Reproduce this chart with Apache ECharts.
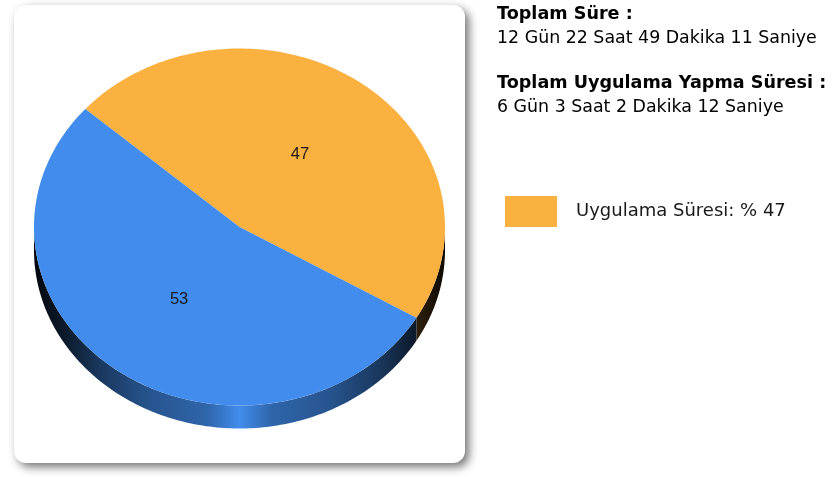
<!DOCTYPE html>
<html>
<head>
<meta charset="utf-8">
<script src="https://cdn.jsdelivr.net/npm/echarts@6/dist/echarts.min.js"></script>
<style>
html,body{margin:0;padding:0;background:#fff;}
#main{width:832px;height:477px;}
</style>
</head>
<body>
<div id="main"></div>
<script>
// ---- data ----
const categories = ['Uygulama Süresi', 'Diğer'];
const values = [47, 53];
const infoTitles = ['Toplam Süre :', 'Toplam Uygulama Yapma Süresi :'];
const infoValues = ['12 Gün 22 Saat 49 Dakika 11 Saniye', '6 Gün 3 Saat 2 Dakika 12 Saniye'];

// ---- style / layout ----
const sliceColors = ['#FBB13F', '#418CEC'];
const PIE = { cx: 239.5, cy: 227, rx: 205.5, ry: 178.5, depth: 23, startAngle: 138.6 };
const FONT = '"DejaVu Sans", Verdana, sans-serif';

function shade(hex, f) {
  const n = parseInt(hex.slice(1), 16);
  const r = Math.round(((n >> 16) & 255) * f), g = Math.round(((n >> 8) & 255) * f), b = Math.round((n & 255) * f);
  return 'rgb(' + r + ',' + g + ',' + b + ')';
}
function sideGradient(color) {
  const stops = [[0, 0.05], [0.08, 0.2], [0.16, 0.4], [0.28, 0.6], [0.42, 0.72], [0.5, 1.0], [0.58, 0.72], [0.72, 0.6], [0.84, 0.4], [0.92, 0.2], [1, 0.05]];
  return new echarts.graphic.LinearGradient(PIE.cx - PIE.rx, 0, PIE.cx + PIE.rx, 0,
    stops.map(s => ({ offset: s[0], color: shade(color, s[1]) })), true);
}
function pt(deg, dy) {
  const a = deg * Math.PI / 180;
  return [PIE.cx + PIE.rx * Math.cos(a), PIE.cy - PIE.ry * Math.sin(a) + (dy || 0)];
}
function arc(from, to, dy) {
  const pts = [];
  const n = Math.max(2, Math.ceil(Math.abs(to - from) / 1));
  for (let i = 0; i <= n; i++) pts.push(pt(from + (to - from) * i / n, dy));
  return pts;
}

const total = values.reduce((a, b) => a + b, 0);

function renderItem(params, api) {
  const idx = params.dataIndex;
  let before = 0;
  for (let i = 0; i < idx; i++) before += values[i];
  const v = api.value(0);
  const s = PIE.startAngle - before / total * 360;
  const e = PIE.startAngle - (before + v) / total * 360;
  const color = sliceColors[idx % sliceColors.length];
  const children = [];
  // side walls (visible lower half)
  for (let k = -2; k <= 2; k++) {
    const lo = Math.max(e, 180 + 360 * k), hi = Math.min(s, 360 + 360 * k);
    if (lo < hi) {
      const top = arc(lo, hi, 0);
      const bot = arc(hi, lo, PIE.depth);
      children.push({
        type: 'polygon', z2: 1,
        shape: { points: top.concat(bot) },
        style: { fill: sideGradient(color) }
      });
    }
  }
  // top face
  children.push({
    type: 'polygon', z2: 10,
    shape: { points: [[PIE.cx, PIE.cy]].concat(arc(s, e, 0)) },
    style: { fill: color }
  });
  // label
  const mid = (s + e) / 2;
  const a = mid * Math.PI / 180;
  children.push({
    type: 'text', z2: 20,
    x: PIE.cx + 0.5 * PIE.rx * Math.cos(a), y: PIE.cy - 0.5 * PIE.ry * Math.sin(a),
    style: { text: String(v), fill: '#1a1a1a', font: '16.5px "Liberation Sans", Arial, sans-serif', align: 'center', verticalAlign: 'middle' }
  });
  return { type: 'group', children: children };
}

const chart = echarts.init(document.getElementById('main'), null, { renderer: 'canvas' });

const infoGraphics = [];
infoTitles.forEach((t, i) => {
  infoGraphics.push({
    type: 'text', left: 497, top: 5 + i * 69,
    style: { text: t, font: 'bold 17.6px ' + FONT, fill: '#000' }
  });
  infoGraphics.push({
    type: 'text', left: 497, top: 30 + i * 69,
    style: { text: infoValues[i], font: '17.4px ' + FONT, fill: '#000' }
  });
});

chart.setOption({
  animation: false,
  backgroundColor: '#fff',
  graphic: [
    {
      type: 'rect', z: -10, x: 14, y: 5,
      shape: { width: 451, height: 458, r: 12 },
      style: { fill: '#fff', shadowBlur: 10, shadowOffsetX: 4, shadowOffsetY: 4, shadowColor: 'rgba(0,0,0,0.55)' }
    }
  ].concat(infoGraphics),
  legend: {
    left: 505, top: 196,
    padding: 0,
    orient: 'vertical',
    icon: 'rect',
    itemWidth: 52, itemHeight: 31,
    selectedMode: false,
    data: [categories[0]],
    formatter: name => name + ': % ' + values[0],
    textStyle: { fontFamily: FONT, fontSize: 18, color: '#1a1a1a', padding: [3, 0, 0, 14] }
  },
  series: [{
    type: 'custom',
    name: categories[0],
    coordinateSystem: 'none',
    itemStyle: { color: sliceColors[0] },
    renderItem: renderItem,
    data: values.map((v, i) => ({ name: categories[i], value: [v] }))
  }]
});
</script>
</body>
</html>
